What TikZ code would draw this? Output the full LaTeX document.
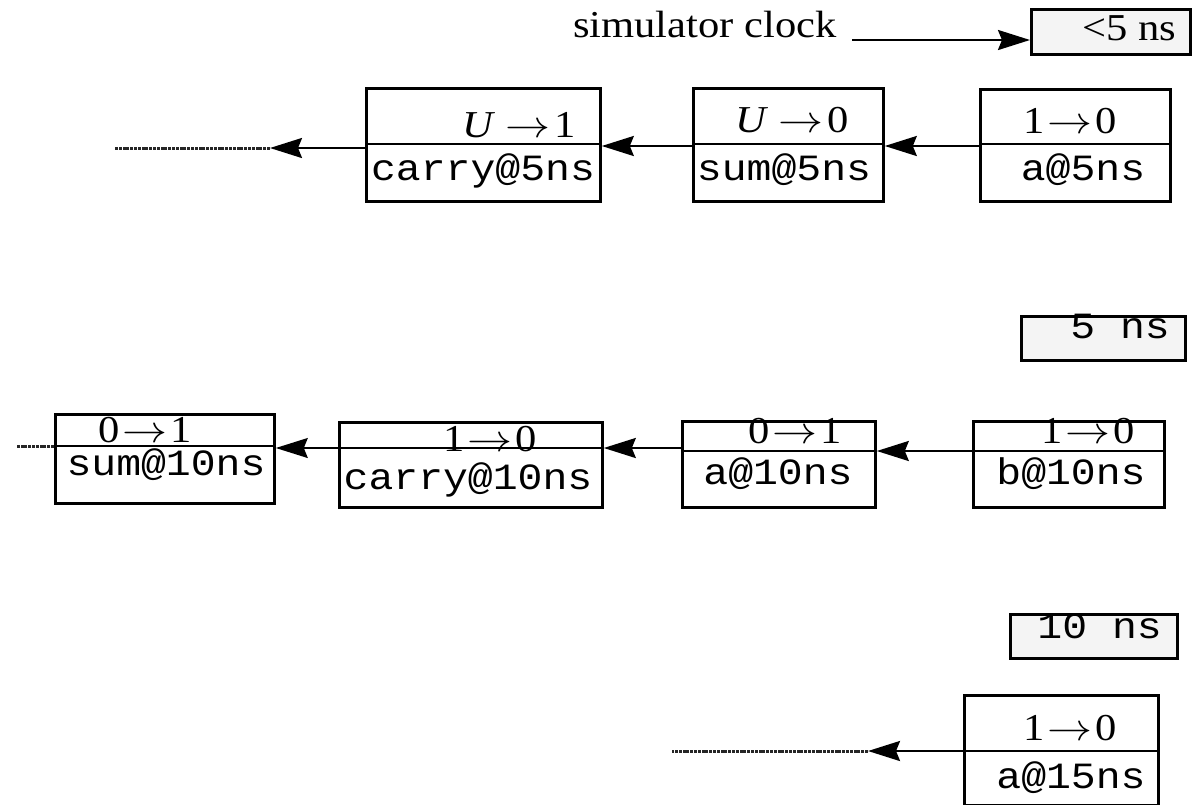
\documentclass[tikz,border=0pt]{standalone}
\usepackage{fontspec}
\usepackage{graphicx}
\setmainfont{Liberation Serif}[FakeStretch=1.12]
\setmonofont{Liberation Mono}[FakeStretch=1.12]
\usetikzlibrary{arrows.meta}
\definecolor{clockfill}{HTML}{F4F4F4}
% math arrow set at 10pt and enlarged, so no odd math sizes are needed
\newcommand{\tto}{\scalebox{4.5}[3.8]{\fontsize{10}{12}\selectfont$\rightarrow$}}
\newcommand{\chg}[2]{#1\kern3pt\tto\kern3pt#2}
\newcommand{\uchg}[1]{\textit{U}\kern10pt\tto\kern4pt#1}
\tikzset{
  event/.style={draw, line width=2.8pt, fill=white, inner sep=0pt, anchor=north west},
  clockbox/.style={draw, line width=2.8pt, fill=clockfill, inner sep=0pt, anchor=north west},
  divider/.style={line width=2.8pt},
  valtext/.style={anchor=base, inner sep=0pt, font=\fontsize{38}{40}\selectfont},
  evtext/.style={anchor=base, inner sep=0pt, font=\fontsize{37}{40}\ttfamily},
  link/.style={line width=2.4pt, -{Stealth[length=32pt,width=20pt,inset=4pt]}},
  thinlink/.style={line width=1.4pt, -{Stealth[length=32pt,width=20pt,inset=4pt]}},
  tail/.style={line width=3pt, black!85, dash pattern=on 3pt off 0.8pt},
}
\begin{document}
\begin{tikzpicture}[x=1pt,y=-1pt]
\useasboundingbox (0,0) rectangle (1192,804);

% ---- simulator clock ----
\node[anchor=base west, inner sep=0pt, font=\fontsize{38}{40}\selectfont] (clk) at (573,37) {simulator clock};
\node[clockbox, minimum width=159pt, minimum height=45pt] (t0) at (1030,8) {};
\node[anchor=base, inner sep=0pt, font=\fontsize{38}{40}\selectfont] (t0txt) at (1129,40) {<5 ns};
\coordinate (clkstart) at (852,40);
\draw[link] (clkstart) -- (t0.west |- clkstart);

% ---- events at 5 ns ----
\node[event, minimum width=234pt, minimum height=113pt] (c5) at (365,87) {};
\node[event, minimum width=190pt, minimum height=113pt] (s5) at (692,87) {};
\node[event, minimum width=190pt, minimum height=112pt] (a5) at (979,88) {};
\foreach \b in {c5,s5,a5} \draw[divider] (\b.west |- 0,144) -- (\b.east |- 0,144);

\node[valtext] (c5v) at (519,137) {\uchg{1}};
\node[evtext]  (c5e) at (483,180) {carry@5ns};
\node[valtext] (s5v) at (792,132) {\uchg{0}};
\node[evtext]  (s5e) at (784,180) {sum@5ns};
\node[valtext] (a5v) at (1070,133) {\chg{1}{0}};
\node[evtext]  (a5e) at (1083,180) {a@5ns};

\draw[link] (a5.west |- 0,146) -- (s5.east |- 0,146);
\draw[link] (s5.west |- 0,146) -- (c5.east |- 0,146);
\coordinate (c5tip) at (270,148);
\coordinate (c5end) at (115,148);
\draw[link] (c5.west |- c5tip) -- (c5tip);
\draw[tail] (c5tip) -- (c5end);

% ---- 5 ns ----
\node[clockbox, minimum width=164pt, minimum height=44pt] (t5) at (1020,315) {};
\node[evtext, anchor=base east] (t5txt) at (1170,338) {5 ns};

% ---- events at 10 ns ----
\node[event, minimum width=219pt, minimum height=89pt] (s10) at (54,413) {};
\node[event, minimum width=263pt, minimum height=85pt] (c10) at (338,421) {};
\node[event, minimum width=193pt, minimum height=86pt] (a10) at (681,420) {};
\node[event, minimum width=191pt, minimum height=86pt] (b10) at (972,420) {};
\draw[divider] (s10.west |- 0,446) -- (s10.east |- 0,446);
\draw[divider] (a10.west |- 0,451) -- (a10.east |- 0,451);
\draw[divider] (b10.west |- 0,451) -- (b10.east |- 0,451);

\node[valtext] (s10v) at (145,442) {\chg{0}{1}};
\node[evtext]  (s10e) at (166,475) {sum@10ns};
\node[valtext] (c10v) at (490,451) {\chg{1}{0}};
\node[evtext]  (c10e) at (468,489) {carry@10ns};
\node[valtext] (a10v) at (795,443) {\chg{0}{1}};
\node[evtext]  (a10e) at (778,484) {a@10ns};
\node[valtext] (b10v) at (1088,443) {\chg{1}{0}};
\node[evtext]  (b10e) at (1071,484) {b@10ns};
% the carry divider runs over its value text
\draw[divider] (c10.west |- 0,448) -- (c10.east |- 0,448);

\draw[link] (b10.west |- 0,451) -- (a10.east |- 0,451);
\draw[link] (a10.west |- 0,448) -- (c10.east |- 0,448);
\draw[thinlink] (c10.west |- 0,448) -- (s10.east |- 0,448);
\coordinate (s10end) at (17,446);
\draw[tail] (s10.west |- s10end) -- (s10end);

% ---- 10 ns ----
\node[clockbox, minimum width=167pt, minimum height=44pt] (t10) at (1009,613) {};
\node[evtext, anchor=base east] (t10txt) at (1162,638) {10 ns};

% ---- events at 15 ns ----
\node[event, minimum width=194pt, minimum height=110pt] (a15) at (963,694) {};
\draw[divider] (a15.west |- 0,751) -- (a15.east |- 0,751);
\node[valtext] (a15v) at (1070,740) {\chg{1}{0}};
\node[evtext]  (a15e) at (1071,788) {a@15ns};
\coordinate (a15tip) at (868,751);
\coordinate (a15end) at (672,751);
\draw[link] (a15.west |- a15tip) -- (a15tip);
\draw[tail] (a15tip) -- (a15end);
\end{tikzpicture}
\end{document}
